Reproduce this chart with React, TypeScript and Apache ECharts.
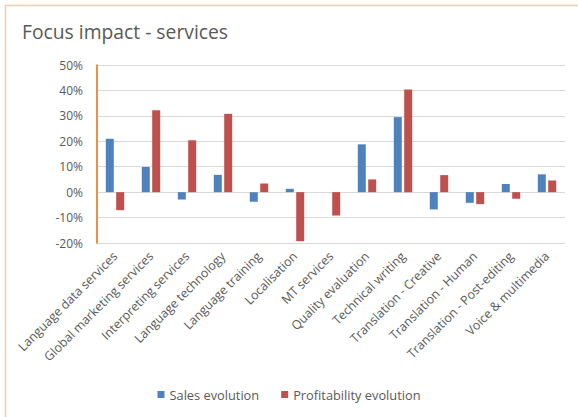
import React, { useEffect, useRef } from "react";
import * as echarts from "echarts";

const categories = [
  "Language data services",
  "Global marketing services",
  "Interpreting services",
  "Language technology",
  "Language training",
  "Localisation",
  "MT services",
  "Quality evaluation",
  "Technical writing",
  "Translation - Creative",
  "Translation - Human",
  "Translation - Post-editing",
  "Voice & multimedia",
];

// Percent values
const salesEvolution = [21, 9.9, -2.9, 6.8, -3.8, 1.3, 0, 18.8, 29.5, -6.8, -4.2, 3.2, 7];
const profitabilityEvolution = [-7.1, 32.2, 20.4, 30.8, 3.4, -19.3, -9.2, 5, 40.4, 6.7, -4.7, -2.6, 4.6];

const yTicks = { min: -20, max: 50, step: 10 };

const FONT = "'Open Sans', 'Liberation Sans', sans-serif";
const TEXT = "#595959";

export default function App() {
  const ref = useRef<HTMLDivElement>(null);

  useEffect(() => {
    if (!ref.current) return;
    const chart = echarts.init(ref.current, undefined, { renderer: "svg" });
    chart.setOption({
      animation: false,
      backgroundColor: "#ffffff",
      textStyle: { fontFamily: FONT },
      graphic: [
        {
          type: "rect",
          shape: { x: 5.5, y: 5.5, width: 600, height: 450 },
          style: { fill: "none", stroke: "#F8C9A6", lineWidth: 1.5 },
          silent: true,
        },
      ],
      title: {
        text: "Focus impact - services",
        left: 17,
        top: 17,
        textStyle: { fontFamily: FONT, fontSize: 19.3, fontWeight: "normal", color: TEXT },
      },
      legend: {
        bottom: 11,
        left: "center",
        itemWidth: 7,
        itemHeight: 7,
        itemGap: 22,
        icon: "rect",
        textStyle: { fontFamily: FONT, fontSize: 12.8, color: TEXT },
        data: ["Sales evolution", "Profitability evolution"],
      },
      grid: { left: 97, right: 13, top: 65, bottom: 174, containLabel: false },
      xAxis: {
        type: "category",
        data: categories,
        axisLine: { show: false },
        axisTick: { show: false },
        axisLabel: {
          rotate: 45,
          interval: 0,
          margin: 11,
          fontFamily: FONT,
          fontSize: 12.4,
          color: TEXT,
        },
      },
      yAxis: {
        type: "value",
        min: yTicks.min,
        max: yTicks.max,
        interval: yTicks.step,
        axisLine: { show: true, lineStyle: { color: "#E46C0A", width: 1.5 } },
        axisTick: { show: false },
        axisLabel: {
          formatter: "{value}%",
          margin: 14,
          fontFamily: FONT,
          fontSize: 12,
          color: TEXT,
        },
        splitLine: { lineStyle: { color: "#D9D9D9", width: 1 } },
      },
      series: [
        {
          name: "Sales evolution",
          type: "bar",
          data: salesEvolution,
          barWidth: 8,
          barGap: "30%",
          itemStyle: { color: "#4F81BD" },
        },
        {
          name: "Profitability evolution",
          type: "bar",
          data: profitabilityEvolution,
          barWidth: 8,
          barGap: "30%",
          itemStyle: { color: "#C0504D" },
        },
      ],
    });
    return () => chart.dispose();
  }, []);

  return (
    <div
      ref={ref}
      style={{ position: "fixed", left: 0, top: 0, width: 578, height: 417 }}
    />
  );
}
